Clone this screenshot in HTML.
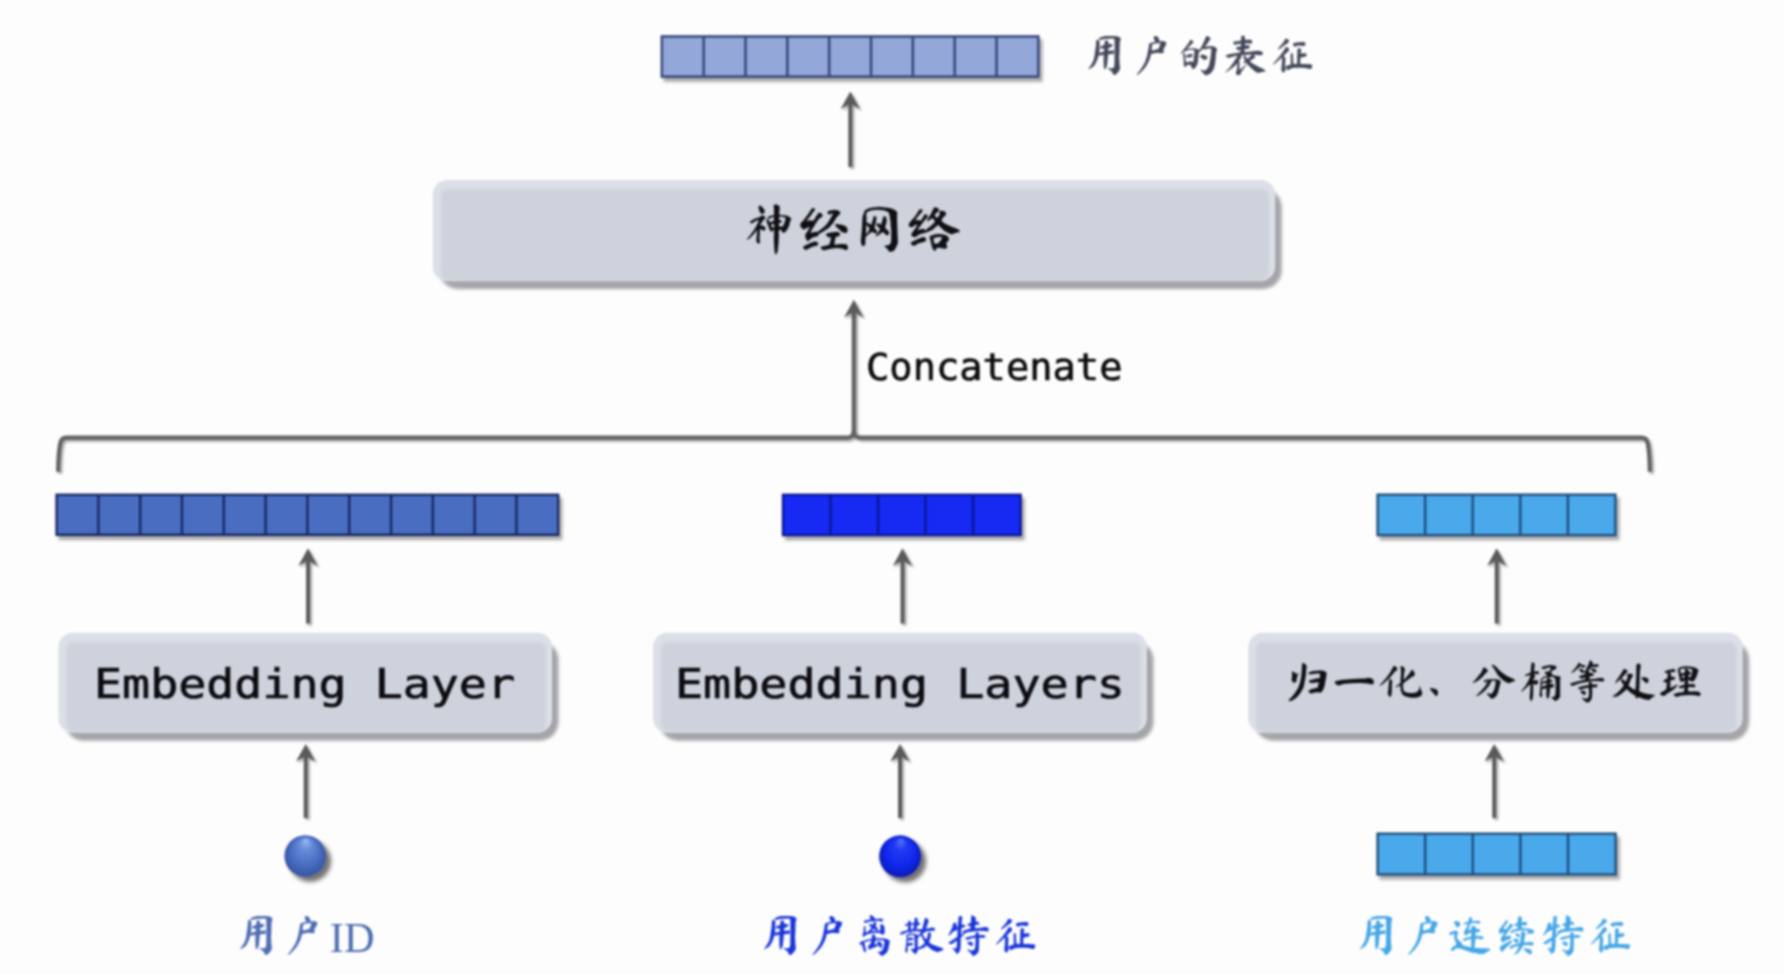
<!DOCTYPE html>
<html lang="zh-CN">
<head>
<meta charset="utf-8">
<title>用户塔</title>
<style>
html,body{margin:0;padding:0;background:#fdfdfd;}
body{width:1784px;height:974px;overflow:hidden;position:relative;}
svg{position:absolute;left:0;top:0;display:block;filter:blur(0.8px);}
.kai{font-family:"Liberation Serif","Ma Shan Zheng","Noto Serif CJK SC",serif;}
.mono{font-family:"DejaVu Sans Mono","Liberation Mono",monospace;}
.ser{font-family:"Liberation Serif",serif;}
</style>
</head>
<body>
<svg width="1784" height="974" viewBox="0 0 1784 974">
<defs>
  <filter id="barsh" x="-5%" y="-20%" width="110%" height="150%">
    <feGaussianBlur in="SourceAlpha" stdDeviation="1.8"/>
    <feOffset dx="3" dy="4"/>
    <feComponentTransfer><feFuncA type="linear" slope="0.33"/></feComponentTransfer>
    <feMerge><feMergeNode/><feMergeNode in="SourceGraphic"/></feMerge>
  </filter>
  <filter id="linesh" x="-50%" y="-50%" width="200%" height="200%">
    <feGaussianBlur in="SourceAlpha" stdDeviation="1"/>
    <feOffset dx="1.5" dy="2"/>
    <feComponentTransfer><feFuncA type="linear" slope="0.35"/></feComponentTransfer>
    <feMerge><feMergeNode/><feMergeNode in="SourceGraphic"/></feMerge>
  </filter>
  <radialGradient id="ball1" cx=".5" cy=".5" r=".5" fx=".52" fy=".1">
    <stop offset="0" stop-color="#9bbaf8"/>
    <stop offset=".3" stop-color="#668bd8"/>
    <stop offset=".7" stop-color="#486dc2"/>
    <stop offset="1" stop-color="#36559f"/>
  </radialGradient>
  <radialGradient id="ball2" cx=".5" cy=".5" r=".5" fx=".52" fy=".1">
    <stop offset="0" stop-color="#5676f8"/>
    <stop offset=".3" stop-color="#203af2"/>
    <stop offset=".7" stop-color="#1128ee"/>
    <stop offset="1" stop-color="#0b1cb4"/>
  </radialGradient>
  <filter id="ballsh" x="-40%" y="-40%" width="200%" height="200%">
    <feGaussianBlur in="SourceAlpha" stdDeviation="2.2"/>
    <feOffset dx="4.5" dy="4.5"/>
    <feComponentTransfer><feFuncA type="linear" slope="0.55"/></feComponentTransfer>
    <feMerge><feMergeNode/><feMergeNode in="SourceGraphic"/></feMerge>
  </filter>
  <filter id="soft2" x="-5%" y="-20%" width="110%" height="140%"><feGaussianBlur stdDeviation="1.5"/></filter>
  <filter id="soft" x="-5%" y="-20%" width="110%" height="140%"><feGaussianBlur stdDeviation="1.6"/></filter>
</defs>

<!-- ===== top representation bar ===== -->
<g filter="url(#barsh)">
  <rect x="661.85" y="36.45" width="376.50" height="40.20" fill="#93a8d9" stroke="#34457a" stroke-width="2.5"/>
  <path d="M703.68 36.45v40.20M745.52 36.45v40.20M787.35 36.45v40.20M829.18 36.45v40.20M871.02 36.45v40.20M912.85 36.45v40.20M954.68 36.45v40.20M996.52 36.45v40.20" stroke="#34457a" stroke-width="2.5" fill="none"/>
</g>
<text class="kai" transform="translate(1081.5,71) scale(1.06,1)" font-size="43.5" letter-spacing=".85" fill="#45485a">用户的表征</text>

<!-- arrow top -->
<g filter="url(#linesh)" fill="#5a5a5a">
  <path d="M850.3 91.5 L860.0 109.1 L852.25 104.7 V167.0 H848.35 V104.7 L840.6 109.1 Z"/>
</g>

<!-- ===== neural network box ===== -->
<rect x="439.3" y="188.5" width="842.4" height="100.5" rx="19" ry="19" fill="#3c3944" fill-opacity=".46" filter="url(#soft2)"/>
<rect x="432.8" y="180.0" width="842.4" height="101.0" rx="14.5" ry="14.5" fill="#dcdfe7"/>
<rect x="440.8" y="189.0" width="828.4" height="91.5" rx="8" ry="8" fill="#ced2dc" filter="url(#soft)"/>
<text class="kai" transform="translate(741.5,248.4) scale(1.04,1)" font-size="53" fill="#101014">神经网络</text>

<!-- ===== bracket + concat arrow ===== -->
<g filter="url(#linesh)">
  <g fill="none" stroke="#626262" stroke-width="4.2" stroke-linecap="butt" stroke-linejoin="round">
    <path d="M58.2 471.8 C58.2 460 59.1 450 60.1 444 Q61.1 437.6 66.5 437.6 L847.5 437.6 Q853.8 437.6 853.8 430 L853.8 312"/>
    <path d="M853.8 430 Q853.8 437.6 860 437.6 L1641.5 437.6 Q1646.9 437.6 1647.9 444 C1648.9 450 1649.8 460 1649.8 471.8"/>
  </g>
  <path fill="#5a5a5a" d="M853.8 299.8 L863.5 317.4 L855.8 313 V318 H851.8 V313 L844.1 317.4 Z"/>
</g>
<text class="mono" x="866" y="380.2" font-size="36.6" fill="#0c0c0c" stroke="#0c0c0c" stroke-width=".6" textLength="256.5" lengthAdjust="spacingAndGlyphs">Concatenate</text>

<!-- ===== bars row ===== -->
<g filter="url(#barsh)">
  <rect x="56.55" y="494.75" width="501.70" height="40.10" fill="#4a6dc1" stroke="#16265e" stroke-width="2.3"/>
  <path d="M98.36 494.75v40.10M140.17 494.75v40.10M181.97 494.75v40.10M223.78 494.75v40.10M265.59 494.75v40.10M307.40 494.75v40.10M349.21 494.75v40.10M391.02 494.75v40.10M432.82 494.75v40.10M474.63 494.75v40.10M516.44 494.75v40.10" stroke="#16265e" stroke-width="2.3" fill="none"/>
</g>
<g filter="url(#barsh)">
  <rect x="782.95" y="494.75" width="237.70" height="40.40" fill="#1229f3" stroke="#0a1590" stroke-width="2.3"/>
  <path d="M830.49 494.75v40.40M878.03 494.75v40.40M925.57 494.75v40.40M973.11 494.75v40.40" stroke="#0a1590" stroke-width="2.3" fill="none"/>
</g>
<g filter="url(#barsh)">
  <rect x="1377.55" y="494.65" width="237.90" height="40.50" fill="#4aa9ea" stroke="#1d4a78" stroke-width="2.3"/>
  <path d="M1425.13 494.65v40.50M1472.71 494.65v40.50M1520.29 494.65v40.50M1567.87 494.65v40.50" stroke="#1d4a78" stroke-width="2.3" fill="none"/>
</g>

<!-- arrows from boxes to bars -->
<g filter="url(#linesh)" fill="#5a5a5a">
  <path d="M308.0 548.3 L317.7 565.9 L309.95 561.5 V623.5 H306.05 V561.5 L298.3 565.9 Z"/>
  <path d="M902.5 548.3 L912.2 565.9 L904.45 561.5 V623.5 H900.55 V561.5 L892.8 565.9 Z"/>
  <path d="M1496.7 548.3 L1506.4 565.9 L1498.65 561.5 V623.5 H1494.75 V561.5 L1487.0 565.9 Z"/>
</g>

<!-- ===== three boxes ===== -->
<rect x="64.9" y="641.2" width="493.6" height="99.5" rx="19" ry="19" fill="#3c3944" fill-opacity=".46" filter="url(#soft2)"/>
<rect x="58.4" y="632.7" width="493.6" height="100.0" rx="14.5" ry="14.5" fill="#dcdfe7"/>
<rect x="66.4" y="641.7" width="479.6" height="90.5" rx="8" ry="8" fill="#ced2dc" filter="url(#soft)"/>
<rect x="659.6" y="641.2" width="493.8" height="99.5" rx="19" ry="19" fill="#3c3944" fill-opacity=".46" filter="url(#soft2)"/>
<rect x="653.1" y="632.7" width="493.8" height="100.0" rx="14.5" ry="14.5" fill="#dcdfe7"/>
<rect x="661.1" y="641.7" width="479.8" height="90.5" rx="8" ry="8" fill="#ced2dc" filter="url(#soft)"/>
<rect x="1254.7" y="641.2" width="494.4" height="99.5" rx="19" ry="19" fill="#3c3944" fill-opacity=".46" filter="url(#soft2)"/>
<rect x="1248.2" y="632.7" width="494.4" height="100.0" rx="14.5" ry="14.5" fill="#dcdfe7"/>
<rect x="1256.2" y="641.7" width="480.4" height="90.5" rx="8" ry="8" fill="#ced2dc" filter="url(#soft)"/>

<text class="mono" x="94" y="697.8" font-size="41.5" fill="#0c0c10" stroke="#0c0c10" stroke-width=".7" textLength="421" lengthAdjust="spacingAndGlyphs">Embedding Layer</text>
<text class="mono" x="675" y="697.8" font-size="41.5" fill="#0c0c10" stroke="#0c0c10" stroke-width=".7" textLength="450" lengthAdjust="spacingAndGlyphs">Embedding Layers</text>
<text class="kai" transform="translate(1284.5,696.5) scale(1.065,1)" font-size="43.5" letter-spacing=".25" fill="#101014">归一化、分桶等处理</text>

<!-- arrows from inputs to boxes -->
<g filter="url(#linesh)" fill="#5a5a5a">
  <path d="M305.7 744.0 L315.4 761.6 L307.65 757.2 V818.0 H303.75 V757.2 L296.0 761.6 Z"/>
  <path d="M900.0 744.0 L909.7 761.6 L901.95 757.2 V818.0 H898.05 V757.2 L890.3 761.6 Z"/>
  <path d="M1494.2 744.0 L1503.9 761.6 L1496.15 757.2 V818.0 H1492.25 V757.2 L1484.5 761.6 Z"/>
</g>

<!-- ===== inputs ===== -->
<g filter="url(#ballsh)">
  <circle cx="305.2" cy="856" r="20.8" fill="url(#ball1)"/>
  <circle cx="900.1" cy="856.3" r="21" fill="url(#ball2)"/>
</g>
<g filter="url(#barsh)">
  <rect x="1377.55" y="833.65" width="238.10" height="40.80" fill="#4aa9ea" stroke="#1d4a78" stroke-width="2.3"/>
  <path d="M1425.17 833.65v40.80M1472.79 833.65v40.80M1520.41 833.65v40.80M1568.03 833.65v40.80" stroke="#1d4a78" stroke-width="2.3" fill="none"/>
</g>

<!-- ===== labels ===== -->
<text class="kai" transform="translate(233.3,951) scale(1.06,1)" font-size="43.5" fill="#4f6db3">用户</text><text class="ser" x="329.8" y="951.6" font-size="42.3" fill="#4f6db3">ID</text>
<text class="kai" transform="translate(757.3,950.7) scale(1.06,1)" font-size="43.5" letter-spacing=".9" fill="#1a35d8">用户离散特征</text>
<text class="kai" transform="translate(1353,950.7) scale(1.06,1)" font-size="43.5" letter-spacing=".7" fill="#45a6e6">用户连续特征</text>
</svg>
</body>
</html>
